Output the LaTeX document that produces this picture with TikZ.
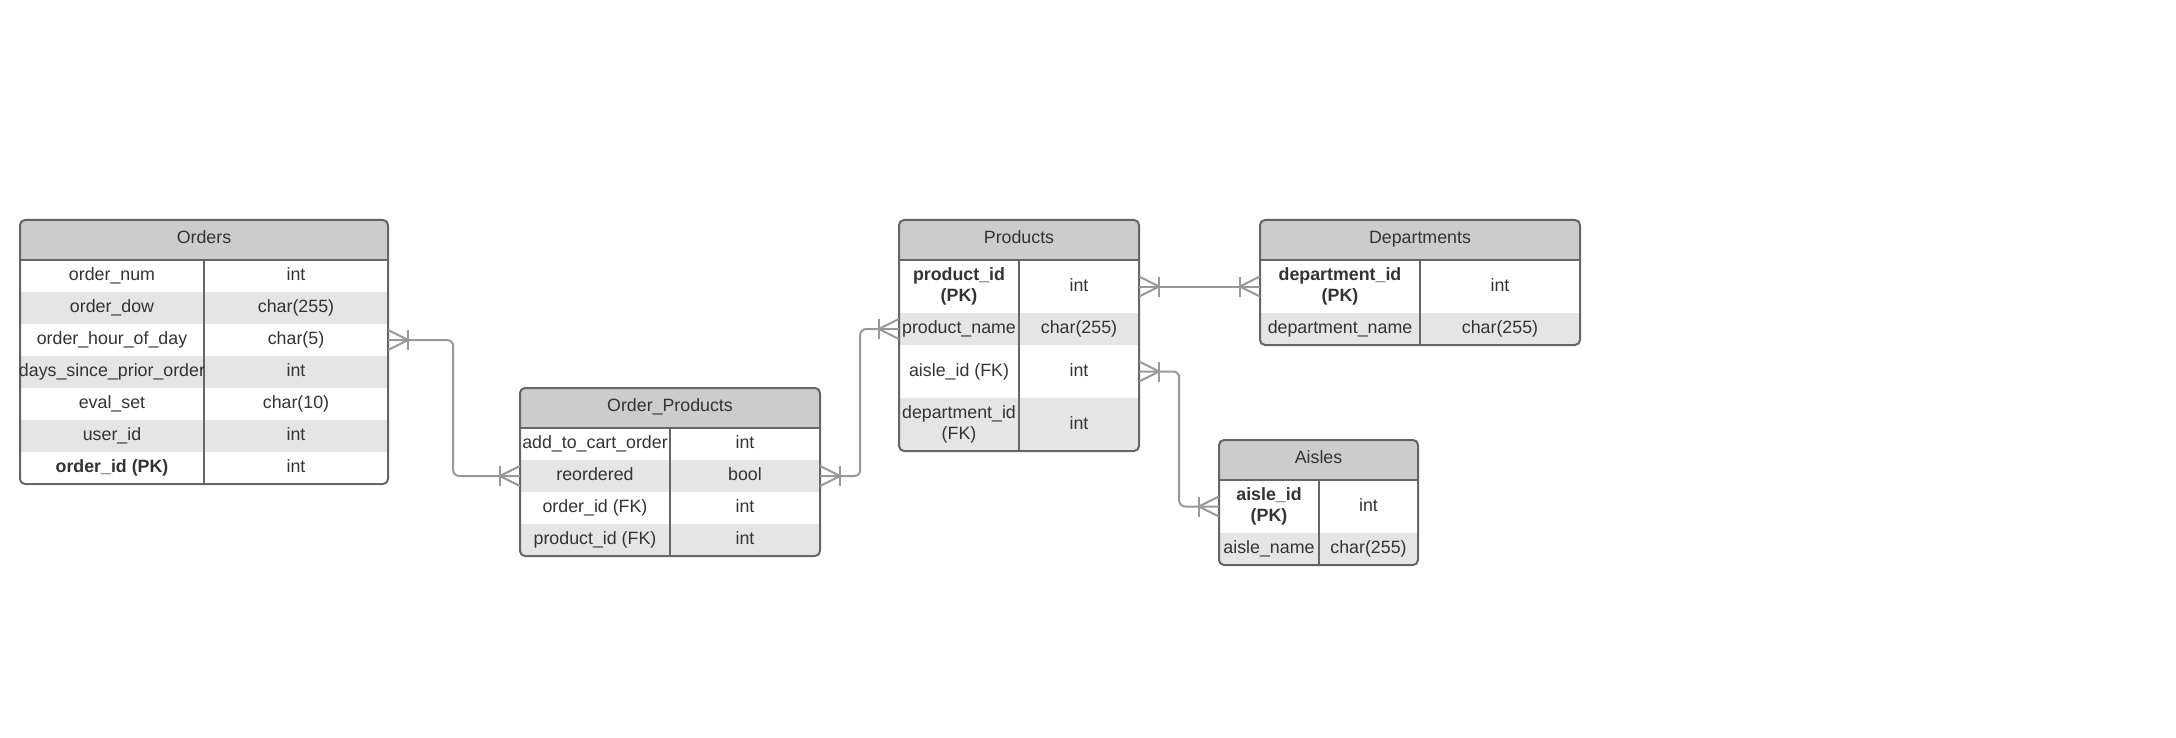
\documentclass[tikz,border=0pt]{standalone}
\usepackage{fontspec}
\setmainfont{Liberation Sans}
\definecolor{bordc}{HTML}{666666}
\definecolor{hdrc}{HTML}{CCCCCC}
\definecolor{altc}{HTML}{E5E5E5}
\definecolor{connc}{HTML}{999999}
\definecolor{txtc}{HTML}{333333}
\tikzset{
  tbl/.style={draw=bordc, line width=2pt, rounded corners=5pt, inner sep=0pt},
  sep/.style={draw=bordc, line width=2pt},
  hdr/.style={fill=hdrc},
  alt/.style={fill=altc},
  cell/.style 2 args={minimum width=#1, minimum height=#2, inner sep=0pt, align=center, text=txtc, text height=12.8pt, text depth=3.8pt},
  cellii/.style 2 args={minimum width=#1, minimum height=#2, inner sep=0pt, align=center, text=txtc},
  conn/.style={draw=connc, line width=2pt},
  crow/.pic={
    \draw[conn] (0,-10) -- (20,0) -- (0,10);
    \draw[conn] (20,-10) -- (20,10);
  }
}
\begin{document}
\begin{tikzpicture}[x=1pt,y=-1pt,font=\fontsize{17.8pt}{21.5pt}\selectfont]
\useasboundingbox (0,0) rectangle (2176,738);

% ---------- Orders ----------
\begin{scope}
\clip[rounded corners=5pt] (20,220) rectangle (388,484);
\fill[hdr] (20,220) rectangle (388,260);
\fill[alt] (20,292) rectangle (388,324);
\fill[alt] (20,356) rectangle (388,388);
\fill[alt] (20,420) rectangle (388,452);
\end{scope}
\draw[sep] (20,260) -- (388,260);
\draw[sep] (204,260) -- (204,484);
\node[tbl, minimum width=368pt, minimum height=264pt] (orders) at (204,352) {};
\node[cell={368pt}{40pt}] (oh) at (204,239) {Orders};
\node[cell={184pt}{32pt}] (o1n) at (112,276) {order\_num};
\node[cell={184pt}{32pt}] (o1t) at (296,276) {int};
\node[cell={184pt}{32pt}] (o2n) at (112,308) {order\_dow};
\node[cell={184pt}{32pt}] (o2t) at (296,308) {char(255)};
\node[cell={184pt}{32pt}] (o3n) at (112,340) {order\_hour\_of\_day};
\node[cell={184pt}{32pt}] (o3t) at (296,340) {char(5)};
\node[cell={184pt}{32pt}] (o4n) at (112,372) {days\_since\_prior\_order};
\node[cell={184pt}{32pt}] (o4t) at (296,372) {int};
\node[cell={184pt}{32pt}] (o5n) at (112,404) {eval\_set};
\node[cell={184pt}{32pt}] (o5t) at (296,404) {char(10)};
\node[cell={184pt}{32pt}] (o6n) at (112,436) {user\_id};
\node[cell={184pt}{32pt}] (o6t) at (296,436) {int};
\node[cell={184pt}{32pt}, font=\fontsize{17.8pt}{21.5pt}\selectfont\bfseries] (o7n) at (112,468) {order\_id (PK)};
\node[cell={184pt}{32pt}] (o7t) at (296,468) {int};

% ---------- Order_Products ----------
\begin{scope}
\clip[rounded corners=5pt] (520,388) rectangle (820,556);
\fill[hdr] (520,388) rectangle (820,428);
\fill[alt] (520,460) rectangle (820,492);
\fill[alt] (520,524) rectangle (820,556);
\end{scope}
\draw[sep] (520,428) -- (820,428);
\draw[sep] (670,428) -- (670,556);
\node[tbl, minimum width=300pt, minimum height=168pt] (orderprod) at (670,472) {};
\node[cell={300pt}{40pt}] (oph) at (670,407) {Order\_Products};
\node[cell={150pt}{32pt}] (op1n) at (595,444) {add\_to\_cart\_order};
\node[cell={150pt}{32pt}] (op1t) at (745,444) {int};
\node[cell={150pt}{32pt}] (op2n) at (595,476) {reordered};
\node[cell={150pt}{32pt}] (op2t) at (745,476) {bool};
\node[cell={150pt}{32pt}] (op3n) at (595,508) {order\_id (FK)};
\node[cell={150pt}{32pt}] (op3t) at (745,508) {int};
\node[cell={150pt}{32pt}] (op4n) at (595,540) {product\_id (FK)};
\node[cell={150pt}{32pt}] (op4t) at (745,540) {int};

% ---------- Products ----------
\begin{scope}
\clip[rounded corners=5pt] (899,220) rectangle (1139,451);
\fill[hdr] (899,220) rectangle (1139,260);
\fill[alt] (899,313) rectangle (1139,345);
\fill[alt] (899,398) rectangle (1139,451);
\end{scope}
\draw[sep] (899,260) -- (1139,260);
\draw[sep] (1019,260) -- (1019,451);
\node[tbl, minimum width=240pt, minimum height=231pt] (products) at (1019,335.5) {};
\node[cell={240pt}{40pt}] (ph) at (1019,239) {Products};
\node[cellii={120pt}{53pt}, font=\fontsize{17.8pt}{21.5pt}\selectfont\bfseries] (p1n) at (959,286.5) {product\_id\\(PK)};
\node[cell={120pt}{53pt}] (p1t) at (1079,286.5) {int};
\node[cell={120pt}{32pt}] (p2n) at (959,329) {product\_name};
\node[cell={120pt}{32pt}] (p2t) at (1079,329) {char(255)};
\node[cell={120pt}{53pt}] (p3n) at (959,371.5) {aisle\_id (FK)};
\node[cell={120pt}{53pt}] (p3t) at (1079,371.5) {int};
\node[cellii={120pt}{53pt}] (p4n) at (959,424.5) {department\_id\\(FK)};
\node[cell={120pt}{53pt}] (p4t) at (1079,424.5) {int};

% ---------- Departments ----------
\begin{scope}
\clip[rounded corners=5pt] (1260,220) rectangle (1580,345);
\fill[hdr] (1260,220) rectangle (1580,260);
\fill[alt] (1260,313) rectangle (1580,345);
\end{scope}
\draw[sep] (1260,260) -- (1580,260);
\draw[sep] (1420,260) -- (1420,345);
\node[tbl, minimum width=320pt, minimum height=125pt] (departments) at (1420,282.5) {};
\node[cell={320pt}{40pt}] (dh) at (1420,239) {Departments};
\node[cellii={160pt}{53pt}, font=\fontsize{17.8pt}{21.5pt}\selectfont\bfseries] (d1n) at (1340,286.5) {department\_id\\(PK)};
\node[cell={160pt}{53pt}] (d1t) at (1500,286.5) {int};
\node[cell={160pt}{32pt}] (d2n) at (1340,329) {department\_name};
\node[cell={160pt}{32pt}] (d2t) at (1500,329) {char(255)};

% ---------- Aisles ----------
\begin{scope}
\clip[rounded corners=5pt] (1219,440) rectangle (1418,565);
\fill[hdr] (1219,440) rectangle (1418,480);
\fill[alt] (1219,533) rectangle (1418,565);
\end{scope}
\draw[sep] (1219,480) -- (1418,480);
\draw[sep] (1319,480) -- (1319,565);
\node[tbl, minimum width=199pt, minimum height=125pt] (aisles) at (1318.5,502.5) {};
\node[cell={199pt}{40pt}] (ah) at (1318.5,459) {Aisles};
\node[cellii={100pt}{53pt}, font=\fontsize{17.8pt}{21.5pt}\selectfont\bfseries] (a1n) at (1269,506.5) {aisle\_id\\(PK)};
\node[cell={99pt}{53pt}] (a1t) at (1368.5,506.5) {int};
\node[cell={100pt}{32pt}] (a2n) at (1269,549) {aisle\_name};
\node[cell={99pt}{32pt}] (a2t) at (1368.5,549) {char(255)};

% ---------- Connectors ----------
\draw[conn, rounded corners=6pt] (o3t.east) -- ++(65,0) |- (op2n.west);
\pic at (o3t.east) {crow};
\pic[xscale=-1] at (op2n.west) {crow};

\draw[conn, rounded corners=6pt] (op2t.east) -- ++(40,0) |- (p2n.west);
\pic at (op2t.east) {crow};
\pic[xscale=-1] at (p2n.west) {crow};

\draw[conn] (p1t.east) -- (d1n.west);
\pic at (p1t.east) {crow};
\pic[xscale=-1] at (d1n.west) {crow};

\draw[conn, rounded corners=6pt] (p3t.east) -- ++(40,0) |- (a1n.west);
\pic at (p3t.east) {crow};
\pic[xscale=-1] at (a1n.west) {crow};
\end{tikzpicture}
\end{document}
